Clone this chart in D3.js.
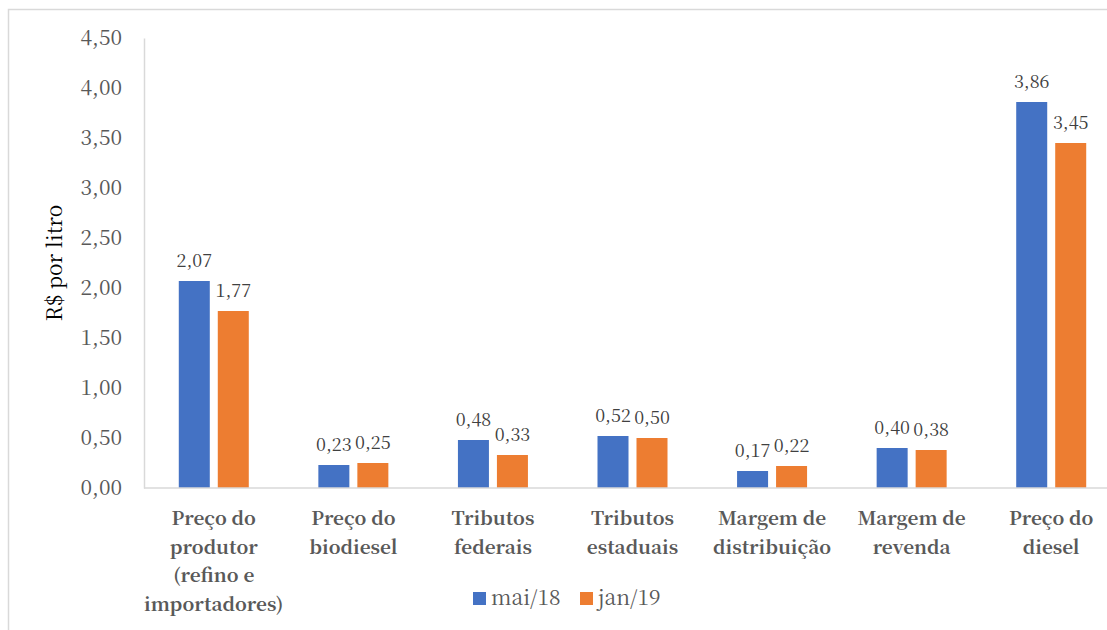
<!DOCTYPE html>
<html>
<head>
<meta charset="utf-8">
<script src="https://cdn.jsdelivr.net/npm/d3@7"></script>
<style>
    body { margin: 0; background: #fff; }
</style>
</head>
<body>
<div id="chart"></div>
<script>
// categories and series
const categories = [
    ["Preço do", "produtor", "(refino e", "importadores)"],
    ["Preço do", "biodiesel"],
    ["Tributos", "federais"],
    ["Tributos", "estaduais"],
    ["Margem de", "distribuição"],
    ["Margem de", "revenda"],
    ["Preço do", "diesel"]
];
const seriesNames = ["mai/18", "jan/19"];
const mai18 = [2.07, 0.23, 0.48, 0.52, 0.17, 0.40, 3.86];
const jan19 = [1.77, 0.25, 0.33, 0.50, 0.22, 0.38, 3.45];
const yTicks = [0, 0.5, 1, 1.5, 2, 2.5, 3, 3.5, 4, 4.5];
const colors = ["#4472C4", "#ED7D31"];

const FONT = "'Noto Serif CJK SC', 'Liberation Serif', serif";
const W = 1107, H = 630;
const margin = {t: 38, l: 144, b: 142};
const plotRight = 1121; // chart runs past the window edge

const svg = d3.select("#chart").append("svg")
    .attr("width", W)
    .attr("height", H);

// frame of the chart box
svg.append("rect")
    .attr("x", 8.5).attr("y", 9.5)
    .attr("width", 1130).attr("height", 700)
    .attr("fill", "none")
    .attr("stroke", "#d9d9d9")
    .attr("stroke-width", 1.5);

const y = d3.scaleLinear()
    .domain([0, 4.5])
    .range([H - margin.b, margin.t]);

const keys = categories.map((c) => c.join(" "));
const x0 = d3.scaleBand()
    .domain(keys)
    .range([margin.l, plotRight])
    .padding(0);

const x1 = d3.scaleBand()
    .domain(seriesNames)
    .range([0, x0.bandwidth()])
    .paddingInner(0.205)
    .paddingOuter(0.892);

const fmt = (v) => d3.format(".2f")(v).replace(".", ",");

// y axis
const yAxis = svg.append("g")
    .attr("transform", `translate(${margin.l},0)`)
    .call(d3.axisLeft(y).tickValues(yTicks).tickSize(0).tickPadding(22).tickFormat(fmt));
yAxis.select(".domain").attr("stroke", "#d9d9d9").attr("stroke-width", 1.5);
yAxis.selectAll("text")
    .attr("fill", "#595959")
    .style("font-family", FONT)
    .style("font-size", "21px");

// y title
svg.append("text")
    .attr("transform", `translate(62,${(margin.t + H - margin.b) / 2}) rotate(-90)`)
    .attr("text-anchor", "middle")
    .attr("fill", "#000")
    .style("font-family", FONT)
    .style("font-size", "21px")
    .text("R$ por litro");

const data = keys.map((k, i) => ({key: k, lines: categories[i], values: [mai18[i], jan19[i]]}));

const groups = svg.append("g")
    .selectAll("g")
    .data(data)
    .join("g")
    .attr("transform", (d) => `translate(${x0(d.key)},0)`);

groups.selectAll("rect")
    .data((d) => d.values.map((v, j) => ({name: seriesNames[j], v, j})))
    .join("rect")
    .attr("x", (d) => x1(d.name))
    .attr("y", (d) => y(d.v))
    .attr("width", x1.bandwidth())
    .attr("height", (d) => y(0) - y(d.v))
    .attr("fill", (d) => colors[d.j]);

groups.selectAll(".val")
    .data((d) => d.values.map((v, j) => ({name: seriesNames[j], v, j})))
    .join("text")
    .attr("class", "val")
    .attr("x", (d) => x1(d.name) + x1.bandwidth() / 2)
    .attr("y", (d) => y(d.v) - 14)
    .attr("text-anchor", "middle")
    .attr("fill", "#404040")
    .style("font-family", FONT)
    .style("font-size", "18px")
    .text((d) => fmt(d.v));

// x axis line
svg.append("line")
    .attr("x1", margin.l).attr("x2", W)
    .attr("y1", y(0)).attr("y2", y(0))
    .attr("stroke", "#d9d9d9")
    .attr("stroke-width", 1.5);

// category labels
groups.append("text")
    .attr("text-anchor", "middle")
    .attr("fill", "#595959")
    .style("font-family", FONT)
    .style("font-size", "19px")
    .style("font-weight", "bold")
    .selectAll("tspan")
    .data((d) => d.lines)
    .join("tspan")
    .attr("x", x0.bandwidth() / 2)
    .attr("y", (d, i) => 525 + i * 28.5)
    .text((d) => d);

// legend
const legend = svg.append("g")
    .selectAll("g")
    .data(seriesNames)
    .join("g")
    .attr("transform", (d, i) => `translate(${473 + i * 107},592)`);
legend.append("rect")
    .attr("width", 13).attr("height", 13)
    .attr("fill", (d, i) => colors[i]);
legend.append("text")
    .attr("x", 18).attr("y", 13)
    .attr("fill", "#595959")
    .style("font-family", FONT)
    .style("font-size", "21px")
    .text((d) => d);
</script>
</body>
</html>
